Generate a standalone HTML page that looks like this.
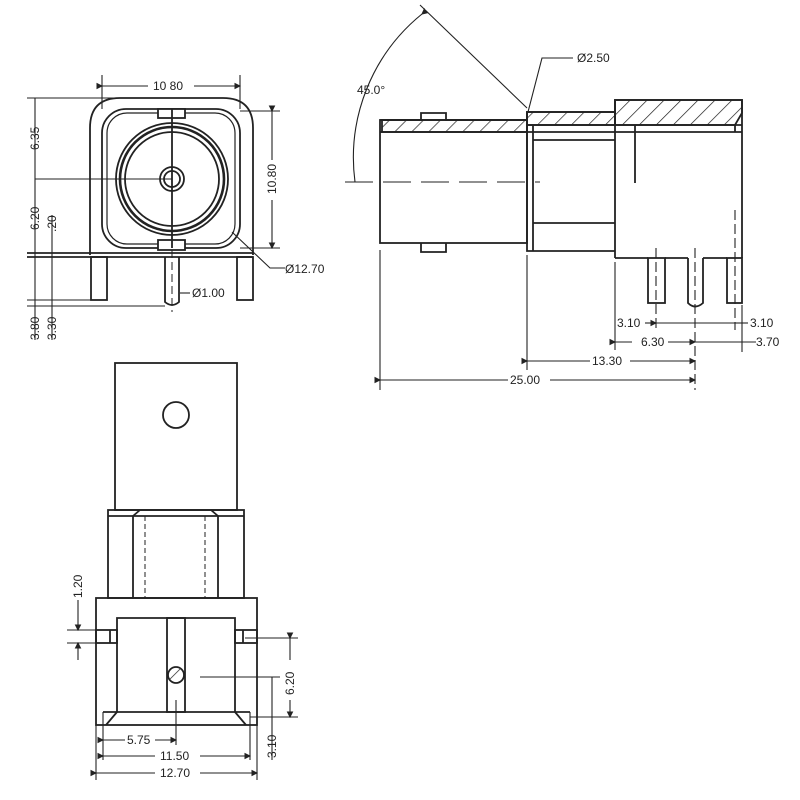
<!DOCTYPE html>
<html><head><style>body{margin:0;background:#fff}svg{display:block}</style></head><body>
<svg width="800" height="800" viewBox="0 0 800 800" xmlns="http://www.w3.org/2000/svg" font-family="Liberation Sans, sans-serif" font-size="12" fill="none" stroke="#222" stroke-width="1.8">
<defs>
<pattern id="h" width="12" height="12" patternUnits="userSpaceOnUse" patternTransform="rotate(45)"><line x1="0" y1="0" x2="0" y2="12" stroke="#222" stroke-width="1.4"/></pattern>
<marker id="a" markerWidth="6" markerHeight="6" refX="5" refY="3" orient="auto"><path d="M0,0L6,3L0,6z" fill="#222" stroke="none"/></marker>
</defs>
<!-- FRONT VIEW -->
<path d="M90,255 V128 Q90,98 120,98 H223 Q253,98 253,128 V255"/>
<rect x="102" y="109" width="138" height="139" rx="24"/>
<rect x="107" y="113" width="128" height="131" rx="20" stroke-width="1.2"/>
<circle cx="172" cy="179" r="56"/><circle cx="172" cy="179" r="52" stroke-width="2.6"/><circle cx="172" cy="179" r="47"/>
<circle cx="172" cy="179" r="12"/><circle cx="172" cy="179" r="8"/>
<rect x="158" y="109" width="27" height="9" fill="#fff"/><rect x="158" y="240" width="27" height="10" fill="#fff"/>
<line x1="172" y1="109" x2="172" y2="248"/><line x1="35" y1="179" x2="172" y2="179" stroke-width="1.1"/>
<line x1="27" y1="253" x2="253" y2="253"/><line x1="27" y1="257" x2="253" y2="257"/>
<rect x="91" y="257" width="16" height="43"/><rect x="237" y="257" width="16" height="43"/>
<path d="M165,257 V302 Q172,308 179,302 V257"/><line x1="172" y1="250" x2="172" y2="312" stroke-dasharray="8,4" stroke-width="1"/>
<g stroke-width="1.1">
<line x1="102" y1="75" x2="102" y2="109"/><line x1="240" y1="75" x2="240" y2="109"/>
<line x1="102" y1="86" x2="148" y2="86" marker-start="url(#a)"/><line x1="194" y1="86" x2="240" y2="86" marker-end="url(#a)"/>
<line x1="27" y1="98" x2="172" y2="98"/><line x1="27" y1="300" x2="91" y2="300"/><line x1="27" y1="306" x2="165" y2="306"/>
<line x1="35" y1="98" x2="35" y2="340"/><line x1="52" y1="215" x2="52" y2="340"/>
<line x1="240" y1="111" x2="280" y2="111"/><line x1="240" y1="248" x2="280" y2="248"/>
<line x1="272" y1="111" x2="272" y2="160" marker-start="url(#a)"/><line x1="272" y1="200" x2="272" y2="248" marker-end="url(#a)"/>
<polyline points="232,232 270,268 285,268"/>
<line x1="180" y1="293" x2="190" y2="293"/>
</g>
<g fill="#222" stroke="none">
<text x="153" y="90">10 80</text>
<text x="285" y="273">Ø12.70</text>
<text x="192" y="297">Ø1.00</text>
<text transform="translate(39,150) rotate(-90)">6.35</text>
<text transform="translate(39,230) rotate(-90)">6.20</text>
<text transform="translate(56,232) rotate(-90)">.20</text>
<text transform="translate(39,340) rotate(-90)">3.80</text>
<text transform="translate(56,340) rotate(-90)">3.30</text>
<text transform="translate(276,194) rotate(-90)">10.80</text>
</g>
<!-- SIDE VIEW -->
<rect x="382" y="120" width="145" height="12" fill="url(#h)"/>
<rect x="527" y="112" width="88" height="13" fill="url(#h)"/>
<path d="M615,100 H742 V113 L735,125 H615 Z" fill="url(#h)"/>
<path d="M380,120 H421 V113 H446 V120 H527 V112 H615 V100 H742 V258"/>
<rect x="380" y="120" width="147" height="123"/>
<line x1="380" y1="132" x2="742" y2="132"/><line x1="527" y1="125" x2="742" y2="125"/>
<line x1="735" y1="125" x2="735" y2="132"/>
<path d="M421,243 V252 H446 V243"/>
<path d="M527,112 V251 H615"/><line x1="533" y1="125" x2="533" y2="251"/>
<line x1="533" y1="140" x2="615" y2="140"/><line x1="533" y1="223" x2="615" y2="223"/>
<line x1="615" y1="100" x2="615" y2="258"/><line x1="635" y1="125" x2="635" y2="183"/>
<path d="M615,258 H648 M665,258 H688 M703,258 H727"/>
<rect x="648" y="258" width="17" height="45"/><rect x="727" y="258" width="15" height="45"/>
<path d="M688,258 V303 Q695,310 703,303 V258"/>
<g stroke-width="1.1">
<line x1="345" y1="182" x2="540" y2="182" stroke-dasharray="28,10"/>
<line x1="656" y1="248" x2="656" y2="330" stroke-dasharray="10,4"/><line x1="695" y1="248" x2="695" y2="390" stroke-dasharray="10,4"/><line x1="735" y1="210" x2="735" y2="330" stroke-dasharray="10,4"/>
<line x1="527" y1="108" x2="420" y2="5"/>
<path d="M422,14 A185,185 0 0 0 355,182" marker-start="url(#a)"/>
<polyline points="528,112 542,58 573,58"/>
<line x1="380" y1="250" x2="380" y2="390"/><line x1="527" y1="255" x2="527" y2="370"/><line x1="615" y1="262" x2="615" y2="350"/><line x1="742" y1="305" x2="742" y2="352"/>
<line x1="645" y1="323" x2="656" y2="323" marker-end="url(#a)"/><line x1="656" y1="323" x2="695" y2="323"/><line x1="695" y1="323" x2="735" y2="323"/><line x1="735" y1="323" x2="748" y2="323"/>
<line x1="615" y1="342" x2="632" y2="342" marker-start="url(#a)"/><line x1="668" y1="342" x2="695" y2="342" marker-end="url(#a)"/><line x1="695" y1="342" x2="756" y2="342"/>
<line x1="527" y1="361" x2="590" y2="361" marker-start="url(#a)"/><line x1="630" y1="361" x2="695" y2="361" marker-end="url(#a)"/>
<line x1="380" y1="380" x2="508" y2="380" marker-start="url(#a)"/><line x1="550" y1="380" x2="695" y2="380" marker-end="url(#a)"/>
</g>
<g fill="#222" stroke="none">
<text x="357" y="94">45.0°</text>
<text x="577" y="62">Ø2.50</text>
<text x="617" y="327">3.10</text><text x="750" y="327">3.10</text>
<text x="641" y="346">6.30</text><text x="756" y="346">3.70</text>
<text x="592" y="365">13.30</text><text x="510" y="384">25.00</text>
</g>
<!-- BOTTOM VIEW -->
<rect x="115" y="363" width="122" height="147"/>
<circle cx="176" cy="415" r="13"/>
<rect x="108" y="510" width="136" height="88"/>
<line x1="108" y1="516" x2="244" y2="516"/>
<line x1="133" y1="516" x2="133" y2="598"/><line x1="218" y1="516" x2="218" y2="598"/>
<line x1="133" y1="516" x2="140" y2="510"/><line x1="218" y1="516" x2="211" y2="510"/>
<g stroke-width="1" stroke-dasharray="5,3"><line x1="145" y1="516" x2="145" y2="598"/><line x1="205" y1="516" x2="205" y2="598"/></g>
<rect x="96" y="598" width="161" height="127"/>
<path d="M117,712 V618 H235 V712"/><line x1="103" y1="712" x2="250" y2="712"/>
<rect x="167" y="618" width="18" height="94"/>
<rect x="96" y="630" width="21" height="13"/><rect x="235" y="630" width="22" height="13"/>
<line x1="110" y1="630" x2="110" y2="643"/><line x1="243" y1="630" x2="243" y2="643"/>
<path d="M117,712 L106,725 M235,712 L246,725"/>
<circle cx="176" cy="675" r="8" fill="url(#h)"/>
<g stroke-width="1.1">
<line x1="103" y1="712" x2="103" y2="760"/><line x1="250" y1="712" x2="250" y2="760"/><line x1="176" y1="700" x2="176" y2="745"/><line x1="96" y1="725" x2="96" y2="780"/><line x1="257" y1="725" x2="257" y2="780"/>
<line x1="103" y1="740" x2="125" y2="740" marker-start="url(#a)"/><line x1="155" y1="740" x2="176" y2="740" marker-end="url(#a)"/>
<line x1="103" y1="756" x2="155" y2="756" marker-start="url(#a)"/><line x1="200" y1="756" x2="250" y2="756" marker-end="url(#a)"/>
<line x1="96" y1="773" x2="155" y2="773" marker-start="url(#a)"/><line x1="200" y1="773" x2="257" y2="773" marker-end="url(#a)"/>
<line x1="245" y1="638" x2="298" y2="638"/><line x1="250" y1="717" x2="298" y2="717"/><line x1="200" y1="677" x2="280" y2="677"/>
<line x1="290" y1="638" x2="290" y2="660" marker-start="url(#a)"/><line x1="290" y1="700" x2="290" y2="717" marker-end="url(#a)"/>
<line x1="272" y1="677" x2="272" y2="760"/>
<line x1="67" y1="630" x2="96" y2="630"/><line x1="67" y1="643" x2="96" y2="643"/>
<line x1="78" y1="600" x2="78" y2="630" marker-end="url(#a)"/><line x1="78" y1="660" x2="78" y2="643" marker-end="url(#a)"/>
</g>
<g fill="#222" stroke="none">
<text x="127" y="744">5.75</text><text x="160" y="760">11.50</text><text x="160" y="777">12.70</text>
<text transform="translate(294,695) rotate(-90)">6.20</text>
<text transform="translate(276,758) rotate(-90)">3.10</text>
<text transform="translate(82,598) rotate(-90)">1.20</text>
</g>
</svg>
</body></html>
